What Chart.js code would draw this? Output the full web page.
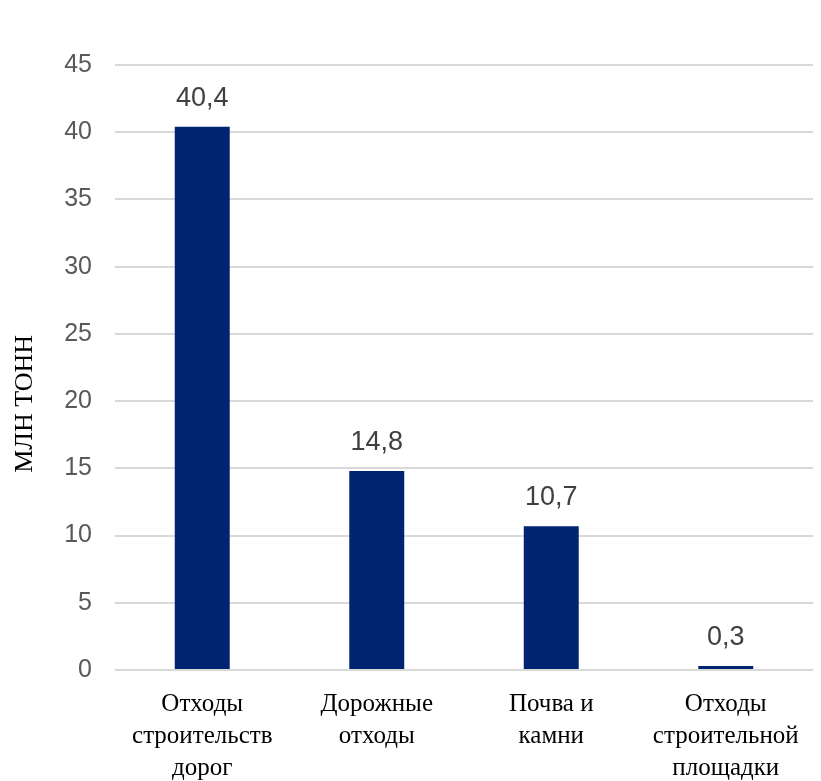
<!DOCTYPE html>
<html><head><meta charset="utf-8">
<script src="https://cdn.jsdelivr.net/npm/chart.js@4.4.1/dist/chart.umd.min.js"></script>
<style>html,body{margin:0;padding:0;background:#fff}canvas{display:block}</style>
</head><body><canvas id="c" width="821" height="781"></canvas>
<script>
const categories = [["Отходы","строительств","дорог"],["Дорожные","отходы"],["Почва и","камни"],["Отходы","строительной","площадки"]];
const values = [40.4, 14.8, 10.7, 0.3];
const valueLabels = ["40,4","14,8","10,7","0,3"];
const yTitle = "МЛН ТОНН";

const labelPlugin = {
  id:'vlabels',
  afterDatasetsDraw(chart){
    const ctx=chart.ctx; const meta=chart.getDatasetMeta(0);
    ctx.save(); ctx.font='27px "Liberation Sans", Arial, sans-serif'; ctx.fillStyle='#404040';
    ctx.textAlign='center'; ctx.textBaseline='alphabetic';
    meta.data.forEach((el,i)=>{ ctx.fillText(valueLabels[i], el.x, el.y-21); });
    ctx.restore();
  }
};
const titlePlugin = {
  id:'ytitle',
  afterDraw(chart){
    const ctx=chart.ctx; const a=chart.chartArea;
    ctx.save(); ctx.font='26px "Liberation Serif", "Times New Roman", serif'; ctx.fillStyle='#000';
    ctx.textAlign='center'; ctx.textBaseline='middle';
    ctx.translate(25, a.top + (a.bottom-a.top)*0.56); ctx.rotate(-Math.PI/2);
    ctx.fillText(yTitle, 0, 0); ctx.restore();
  }
};
new Chart(document.getElementById('c'),{
  type:'bar',
  data:{labels:categories,datasets:[{data:values,backgroundColor:'#002570',barPercentage:0.315,categoryPercentage:1}]},
  options:{responsive:false,animation:false,devicePixelRatio:1,
    layout:{padding:{top:65,right:8,left:0,bottom:0}},
    plugins:{legend:{display:false},tooltip:{enabled:false}},
    scales:{
      x:{grid:{display:false},border:{display:false},
        ticks:{font:{family:'"Liberation Serif","Times New Roman",serif',size:25,lineHeight:1.28},color:'#000',padding:10,maxRotation:0,autoSkip:false},
        afterFit(s){s.height=111;}},
      y:{min:0,max:45,grid:{color:'#d9d9d9',lineWidth:2,drawTicks:false},border:{display:false},
        ticks:{stepSize:5,font:{family:'"Liberation Sans",Arial,sans-serif',size:25},color:'#595959',padding:23},
        title:{display:false},
        afterFit(s){s.width=115;}}
    }},
  plugins:[labelPlugin,titlePlugin]
});
</script>
</body></html>
